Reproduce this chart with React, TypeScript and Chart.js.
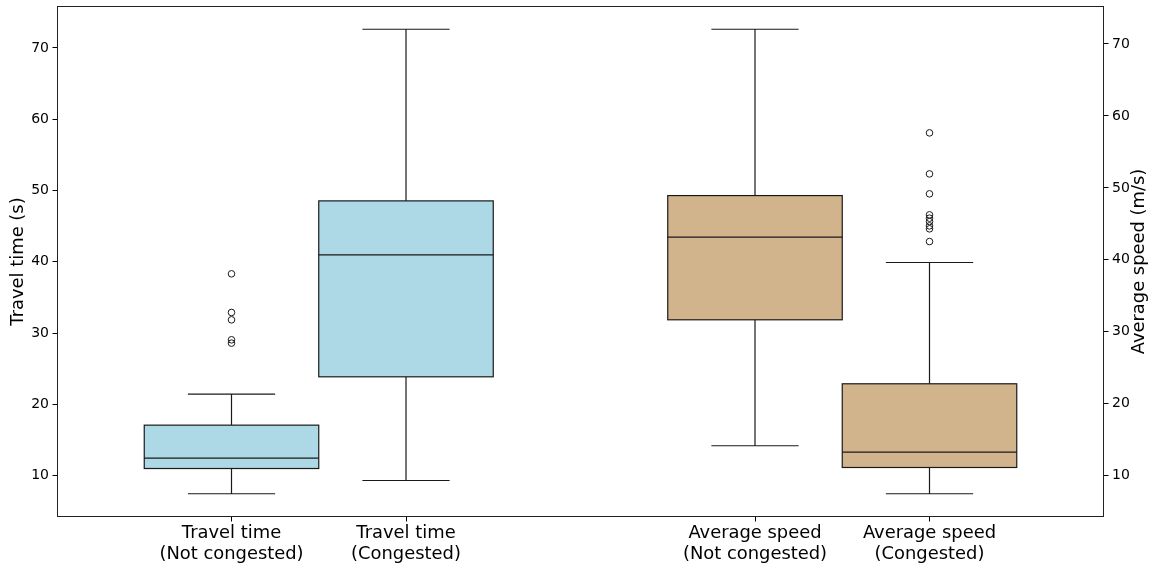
import React, { useEffect, useRef } from "react";
import { Chart, registerables } from "chart.js";

Chart.register(...registerables);

// ---- data ----
const categories: string[][] = [
  ["Travel time", "(Not congested)"],
  ["Travel time", "(Congested)"],
  ["Average speed", "(Not congested)"],
  ["Average speed", "(Congested)"],
];
const positions = [1, 2, 4, 5];
const axisIds = ["y", "y", "y1", "y1"];
const whiskerLow = [7.48, 9.34, 14.17, 7.5];
const q1 = [11.02, 23.88, 31.67, 11.15];
const medians = [12.48, 40.98, 43.15, 13.29];
const q3 = [17.1, 48.55, 48.93, 22.78];
const whiskerHigh = [21.45, 72.62, 72.04, 39.63];
const outliersTravelNotCongested = [38.32, 32.9, 31.87, 29.07, 28.6];
const outliersSpeedCongested = [57.64, 51.94, 49.17, 46.25, 45.79, 45.32, 44.72, 44.31, 42.54];
const yTicks = [10, 20, 30, 40, 50, 60, 70];
const boxColors = ["#ADD8E6", "#ADD8E6", "#D2B48C", "#D2B48C"];

const BOX_WIDTH = 1.0;
const CAP_WIDTH = 0.5;
const FONT = "'DejaVu Sans', sans-serif";
const LINE = "#1a1a1a";

const boxPlugin = {
  id: "boxes",
  beforeDatasetsDraw(chart: any) {
    const { ctx, chartArea, scales } = chart;
    const xs = scales.x;
    ctx.save();
    ctx.beginPath();
    ctx.rect(chartArea.left, chartArea.top, chartArea.width, chartArea.height);
    ctx.clip();
    ctx.lineWidth = 1.2;
    ctx.strokeStyle = LINE;
    for (let i = 0; i < positions.length; i++) {
      const ys = scales[axisIds[i]];
      const xc = xs.getPixelForValue(positions[i]);
      const xl = xs.getPixelForValue(positions[i] - BOX_WIDTH / 2);
      const xr = xs.getPixelForValue(positions[i] + BOX_WIDTH / 2);
      const cl = xs.getPixelForValue(positions[i] - CAP_WIDTH / 2);
      const cr = xs.getPixelForValue(positions[i] + CAP_WIDTH / 2);
      const yq1 = ys.getPixelForValue(q1[i]);
      const yq3 = ys.getPixelForValue(q3[i]);
      const ym = ys.getPixelForValue(medians[i]);
      const ylo = ys.getPixelForValue(whiskerLow[i]);
      const yhi = ys.getPixelForValue(whiskerHigh[i]);
      // whiskers
      ctx.beginPath();
      ctx.moveTo(xc, yq1);
      ctx.lineTo(xc, ylo);
      ctx.moveTo(xc, yq3);
      ctx.lineTo(xc, yhi);
      ctx.moveTo(cl, ylo);
      ctx.lineTo(cr, ylo);
      ctx.moveTo(cl, yhi);
      ctx.lineTo(cr, yhi);
      ctx.stroke();
      // box
      ctx.fillStyle = boxColors[i];
      ctx.fillRect(xl, yq3, xr - xl, yq1 - yq3);
      ctx.strokeRect(xl, yq3, xr - xl, yq1 - yq3);
      // median
      ctx.beginPath();
      ctx.moveTo(xl, ym);
      ctx.lineTo(xr, ym);
      ctx.stroke();
    }
    ctx.restore();
  },
  afterDraw(chart: any) {
    const { ctx, chartArea } = chart;
    ctx.save();
    ctx.strokeStyle = "#222";
    ctx.lineWidth = 1;
    ctx.strokeRect(
      Math.round(chartArea.left) + 0.5,
      Math.round(chartArea.top) + 0.5,
      Math.round(chartArea.width) - 1,
      Math.round(chartArea.height) - 1
    );
    // right axis title (reads bottom-to-top)
    ctx.translate(1139, (chartArea.top + chartArea.bottom) / 2);
    ctx.rotate(-Math.PI / 2);
    ctx.fillStyle = "#000";
    ctx.font = `17.9px ${FONT}`;
    ctx.textAlign = "center";
    ctx.textBaseline = "middle";
    ctx.fillText("Average speed (m/s)", 0, 0);
    ctx.restore();
  },
};

const noPad = (axis: any) => {
  axis.paddingTop = 0;
  axis.paddingBottom = 0;
};

export default function App() {
  const ref = useRef<HTMLCanvasElement>(null);
  useEffect(() => {
    if (!ref.current) return;
    const chart = new Chart(ref.current, {
      type: "scatter",
      data: {
        datasets: [
          {
            data: outliersTravelNotCongested.map((v) => ({ x: positions[0], y: v })),
            yAxisID: "y",
            pointStyle: "circle",
            pointRadius: 3.3,
            pointBorderWidth: 1,
            pointBorderColor: LINE,
            pointBackgroundColor: "rgba(0,0,0,0)",
          },
          {
            data: outliersSpeedCongested.map((v) => ({ x: positions[3], y: v })),
            yAxisID: "y1",
            pointStyle: "circle",
            pointRadius: 3.3,
            pointBorderWidth: 1,
            pointBorderColor: LINE,
            pointBackgroundColor: "rgba(0,0,0,0)",
          },
        ],
      },
      options: {
        responsive: false,
        animation: false,
        layout: { padding: { top: 6, left: 0, right: 0, bottom: 0 } },
        plugins: { legend: { display: false }, tooltip: { enabled: false } },
        scales: {
          x: {
            type: "linear",
            min: 0,
            max: 6,
            border: { display: false },
            grid: { drawOnChartArea: false, tickLength: 4.5, color: "#000", tickColor: "#000" },
            afterBuildTicks: (axis: any) => {
              axis.ticks = positions.map((p) => ({ value: p }));
            },
            afterFit: (axis: any) => {
              axis.height = 50;
              axis.paddingLeft = 0;
              axis.paddingRight = 0;
            },
            ticks: {
              autoSkip: false,
              maxRotation: 0,
              minRotation: 0,
              padding: 1,
              color: "#000",
              font: { family: FONT, size: 17.9, lineHeight: 1.17 },
              callback: (v: any) => {
                const i = positions.indexOf(Number(v));
                return i >= 0 ? categories[i] : "";
              },
            },
          },
          y: {
            type: "linear",
            position: "left",
            min: 4.22,
            max: 75.88,
            border: { display: false },
            grid: { drawOnChartArea: false, tickLength: 4.5, color: "#000", tickColor: "#000" },
            afterBuildTicks: (axis: any) => {
              axis.ticks = yTicks.map((v) => ({ value: v }));
            },
            afterFit: (axis: any) => {
              axis.width = 57;
              noPad(axis);
            },
            ticks: {
              padding: 3.5,
              color: "#000",
              font: { family: FONT, size: 14 },
            },
            title: {
              display: true,
              text: "Travel time (s)",
              color: "#000",
              font: { family: FONT, size: 17.9 },
              padding: { top: 8, bottom: 0 },
            },
          },
          y1: {
            type: "linear",
            position: "right",
            min: 4.27,
            max: 75.27,
            border: { display: false },
            grid: { drawOnChartArea: false, tickLength: 4.5, color: "#000", tickColor: "#000" },
            afterBuildTicks: (axis: any) => {
              axis.ticks = yTicks.map((v) => ({ value: v }));
            },
            afterFit: (axis: any) => {
              axis.width = 47;
              noPad(axis);
            },
            ticks: {
              padding: 3.5,
              color: "#000",
              font: { family: FONT, size: 14 },
            },
          },
        },
      },
      plugins: [boxPlugin],
    } as any);
    return () => chart.destroy();
  }, []);
  return (
    <div style={{ position: "fixed", left: 0, top: 0, width: 1151, height: 567, background: "#fff" }}>
      <canvas ref={ref} width={1151} height={567} />
    </div>
  );
}
